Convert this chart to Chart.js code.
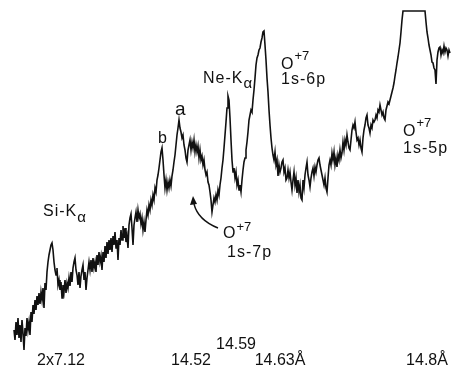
<!DOCTYPE html>
<html>
<head>
<meta charset="utf-8">
<script src="https://cdn.jsdelivr.net/npm/chart.js@4/dist/chart.umd.min.js"></script>
<style>
  html, body { margin: 0; padding: 0; background: #fff; }
  #wrap { width: 451px; height: 370px; }
</style>
</head>
<body>
<div id="wrap"><canvas id="spec" width="451" height="370"></canvas></div>
<script>
// --- DATA ---
// detector trace, one reading per channel starting at channel 14
const firstChannel = 14;
const counts = [
  40,30,48,35,52,32,45,28,50,37,20,42,34,52,40,48,35,58,48,65,56,70,60,74,65,77,66,78,70,82,62,87,80,98,108,115,120,
  125,127,120,108,100,95,102,85,90,80,88,72,85,78,90,77,87,82,92,84,98,88,102,108,112,100,95,85,98,82,94,100,105,90,98,80,92,100,108,100,110,98,112,102,108,98,115,105,118,108,
  114,100,118,108,124,112,128,116,130,120,132,118,134,125,138,122,130,110,132,125,140,130,144,132,142,128,134,122,145,152,156,142,125,145,152,158,148,160,152,156,146,152,140,148,138,150,160,155,165,160,
  170,165,175,170,182,178,190,195,202,210,218,222,210,195,182,190,180,188,182,190,184,194,200,208,215,225,235,242,250,242,238,232,235,225,220,212,208,220,225,230,220,228,222,230,218,225,218,224,212,220,
  210,214,205,210,200,195,198,188,185,178,170,158,165,172,168,175,170,180,175,185,192,202,210,222,235,248,262,274,270,252,230,210,198,202,192,198,185,190,180,185,178,190,200,208,212,220,228,238,250,255,
  260,258,270,280,292,305,312,315,320,322,328,332,338,339,325,310,292,278,260,245,232,222,215,210,218,205,210,194,205,198,202,208,210,198,202,190,192,200,192,198,188,180,190,198,185,192,177,190,178,185,
  172,170,190,182,195,202,208,195,190,183,192,198,202,194,203,198,205,210,212,205,200,195,190,185,192,182,178,192,205,210,205,217,210,218,205,212,203,215,210,220,212,217,228,220,230,225,235,228,222,220,
  230,240,245,242,248,238,230,232,225,230,222,218,232,240,245,252,255,245,242,237,245,242,250,248,250,255,252,260,258,265,260,255,258,252,250,260,264,268,266,270,274,278,282,287,294,300,307,313,320,327,338,350,359,
  359,359,359,359,359,359,359,359,359,359,359,359,359,359,359,359,359,359,359,359,359,
  359,348,338,332,325,320,315,308,307,302,300,286,310,318,322,323,315,320,317,324,318,322,320,314,320,317
];

// wavelength marks under the trace
const tickLabels = ['2x7.12', '14.52', '14.59', '14.63Å', '14.8Å'];
const tickChannels = [61, 191, 236, 280, 427];

// line identifications
const lineNames = ['Si-K', 'b', 'a', 'Ne-K', 'O', 'O', 'O'];

// --- LAYOUT (channel, level) of the lettering ---
const FONT = '"Liberation Sans", Arial, sans-serif';
const tickLevels = [5, 5, 21, 5, 5];
const labelSpots = [
  { at: [43, 154], size: 16, sub: 'α', subLevel: 148 },
  { at: [158, 227], size: 16 },
  { at: [175, 255], size: 19 },
  { at: [203, 287], size: 16, sub: 'α', subLevel: 282 },
  { at: [281, 301], size: 16, sup: '+7', supLevel: 310, under: '1s-6p', underAt: [281, 286] },
  { at: [403, 234], size: 16, sup: '+7', supLevel: 243, under: '1s-5p', underAt: [403, 217] },
  { at: [223, 132], size: 16, sup: '+7', supLevel: 139, under: '1s-7p', underAt: [227, 113] }
];

const lettering = {
  id: 'lettering',
  afterDraw(chart) {
    const { ctx, scales: { x, y } } = chart;
    const px = c => x.getPixelForValue(c);
    const py = v => y.getPixelForValue(v);
    ctx.save();
    ctx.fillStyle = '#111';
    ctx.strokeStyle = '#111';
    ctx.textBaseline = 'alphabetic';

    // bottom wavelength labels
    ctx.textAlign = 'center';
    ctx.font = '16px ' + FONT;
    tickLabels.forEach((t, i) => ctx.fillText(t, px(tickChannels[i]), py(tickLevels[i])));

    // peak names
    ctx.textAlign = 'left';
    lineNames.forEach((name, i) => {
      const s = labelSpots[i];
      ctx.letterSpacing = '1px';
      ctx.font = s.size + 'px ' + FONT;
      const x0 = px(s.at[0]);
      ctx.fillText(name, x0, py(s.at[1]));
      const w = ctx.measureText(name).width;
      ctx.letterSpacing = '0px';
      if (s.sub) {
        ctx.font = '15px ' + FONT;
        ctx.fillText(s.sub, x0 + w, py(s.subLevel));
      }
      if (s.sup) {
        ctx.font = '13px ' + FONT;
        ctx.fillText(s.sup, x0 + w, py(s.supLevel));
      }
      if (s.under) {
        ctx.letterSpacing = '1px';
        ctx.font = '16px ' + FONT;
        ctx.fillText(s.under, px(s.underAt[0]), py(s.underAt[1]));
      }
    });

    // curved arrow to the 1s-7p dip
    ctx.letterSpacing = '0px';
    ctx.lineWidth = 1.4;
    ctx.beginPath();
    ctx.moveTo(px(218), py(142));
    ctx.quadraticCurveTo(px(198), py(150), px(194), py(166));
    ctx.stroke();
    ctx.beginPath();
    ctx.moveTo(px(193), py(174));
    ctx.lineTo(px(190), py(165));
    ctx.lineTo(px(197), py(166));
    ctx.closePath();
    ctx.fill();
    ctx.restore();
  }
};

new Chart(document.getElementById('spec'), {
  type: 'line',
  data: {
    datasets: [{
      data: counts.map((c, i) => ({ x: firstChannel + i, y: c })),
      borderColor: '#111',
      borderWidth: 1.6,
      pointRadius: 0,
      tension: 0,
      fill: false
    }]
  },
  options: {
    responsive: false,
    animation: false,
    layout: { padding: 0 },
    plugins: { legend: { display: false }, tooltip: { enabled: false } },
    scales: {
      x: { type: 'linear', min: 0, max: 451, display: false },
      y: { min: 0, max: 370, display: false }
    }
  },
  plugins: [lettering]
});
</script>
</body>
</html>
